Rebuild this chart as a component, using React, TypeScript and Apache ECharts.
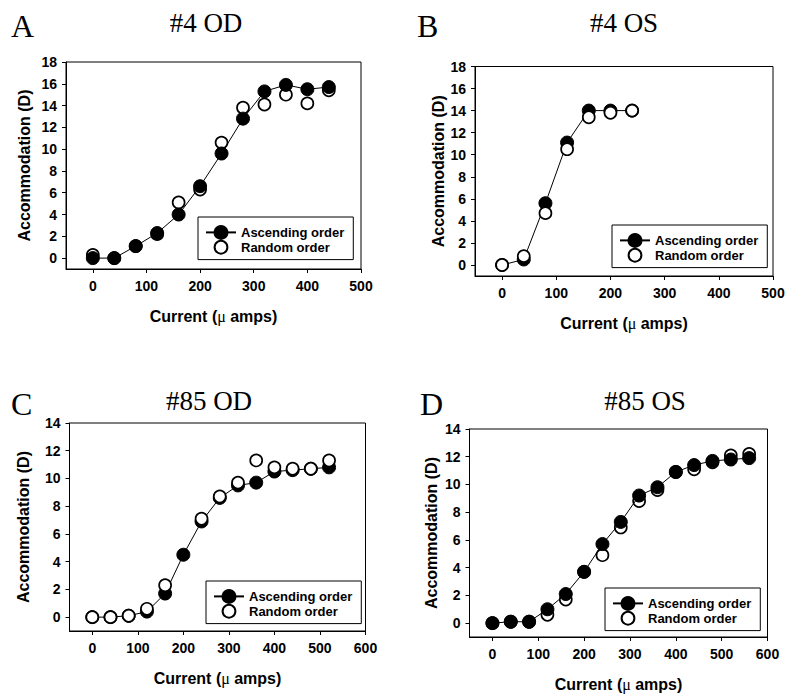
import React, { useEffect, useRef } from 'react';
import * as echarts from 'echarts';

// ---- Data ----
const currentA = [0, 40, 80, 120, 160, 200, 240, 280, 320, 360, 400, 440];
const ascendingA = [0, 0, 1.1, 2.3, 4.0, 6.6, 9.6, 12.8, 15.3, 15.9, 15.5, 15.7];
const randomA = [0.3, 0, 1.1, 2.2, 5.1, 6.3, 10.6, 13.8, 14.1, 15.0, 14.2, 15.4];

const currentB = [0, 40, 80, 120, 160, 200, 240];
const ascendingB = [0, 0.5, 5.6, 11.1, 14.0, 14.0, 14.0];
const randomB = [0, 0.8, 4.7, 10.5, 13.4, 13.8, 14.0];

const currentC = [0, 40, 80, 120, 160, 200, 240, 280, 320, 360, 400, 440, 480, 520];
const ascendingC = [0, 0, 0.1, 0.4, 1.7, 4.5, 6.9, 8.6, 9.5, 9.7, 10.5, 10.6, 10.7, 10.8];
const randomC = [0, 0, 0.1, 0.6, 2.3, null, 7.1, 8.7, 9.7, 11.3, 10.8, 10.7, 10.7, 11.3];

const currentD = [0, 40, 80, 120, 160, 200, 240, 280, 320, 360, 400, 440, 480, 520, 560];
const ascendingD = [0, 0.1, 0.1, 1.0, 2.1, 3.7, 5.7, 7.3, 9.2, 9.8, 10.9, 11.4, 11.7, 11.8, 11.9];
const randomD = [0, 0.1, 0.1, 0.6, 1.7, 3.7, 4.9, 6.9, 8.8, 9.6, 10.9, 11.1, 11.6, 12.1, 12.2];

const xTicks500 = [0, 100, 200, 300, 400, 500];
const xTicks600 = [0, 100, 200, 300, 400, 500, 600];
const yTicks18 = [0, 2, 4, 6, 8, 10, 12, 14, 16, 18];
const yTicks14 = [0, 2, 4, 6, 8, 10, 12, 14];

const panelLetters = ['A', 'B', 'C', 'D'];
const panelTitles = ['#4 OD', '#4 OS', '#85 OD', '#85 OS'];
const seriesNames = ['Ascending order', 'Random order'];
const yAxisTitle = 'Accommodation (D)';
const xAxisTitle = 'Current ({mu|μ} amps)';

const SANS = 'Liberation Sans';
const SERIF = 'Liberation Serif';

function zip(xs: number[], ys: (number | null)[]) {
  const out: number[][] = [];
  xs.forEach((x, i) => {
    const y = ys[i];
    if (y !== null && y !== undefined) out.push([x, y]);
  });
  return out;
}

const panels = [
  { x: currentA, asc: ascendingA, rnd: randomA, xMax: 500, yMax: 18, xTicks: xTicks500, yTicks: yTicks18,
    grid: { left: 66, top: 62, width: 295, height: 207 }, legend: { left: 198, top: 217 }, yGap: 34, ascOnTop: true },
  { x: currentB, asc: ascendingB, rnd: randomB, xMax: 500, yMax: 18, xTicks: xTicks500, yTicks: yTicks18,
    grid: { left: 475, top: 66.5, width: 298, height: 209.5 }, legend: { left: 612, top: 225 }, yGap: 29, ascOnTop: false },
  { x: currentC, asc: ascendingC, rnd: randomC, xMax: 600, yMax: 14, xTicks: xTicks600, yTicks: yTicks14,
    grid: { left: 69.5, top: 423, width: 296, height: 208 }, legend: { left: 206, top: 581 }, yGap: 38, ascOnTop: false },
  { x: currentD, asc: ascendingD, rnd: randomD, xMax: 600, yMax: 14, xTicks: xTicks600, yTicks: yTicks14,
    grid: { left: 469.5, top: 429, width: 298, height: 208 }, legend: { left: 605, top: 588 }, yGap: 30, ascOnTop: true },
];

const titlePos = [
  { lx: 11, ly: 26, tx: 206, ty: 23 },
  { lx: 417, ly: 26, tx: 624, ty: 23 },
  { lx: 11, ly: 404, tx: 209, ty: 401 },
  { lx: 420, ly: 404, tx: 645, ty: 401 },
];

export default function App() {
  const ref = useRef<HTMLDivElement>(null);

  useEffect(() => {
    if (!ref.current) return;
    const chart = echarts.init(ref.current, null, { renderer: 'svg' });

    const grids: any[] = [];
    const xAxes: any[] = [];
    const yAxes: any[] = [];
    const series: any[] = [];
    const legends: any[] = [];
    const graphics: any[] = [];

    panels.forEach((p, i) => {
      grids.push({ ...p.grid, show: true, borderColor: '#000', borderWidth: 1, backgroundColor: 'transparent', containLabel: false });
      xAxes.push({
        type: 'value', gridIndex: i, min: -50, max: p.xMax,
        axisLine: { show: true, onZero: false, lineStyle: { color: '#000', width: 1 } },
        axisTick: { show: true, length: 4, customValues: p.xTicks, lineStyle: { color: '#000' } },
        axisLabel: { customValues: p.xTicks, margin: 10, fontFamily: SANS, fontWeight: 'bold', fontSize: 14, color: '#000' },
        splitLine: { show: false },
        name: xAxisTitle, nameLocation: 'middle', nameGap: 39,
        nameTextStyle: {
          fontFamily: SANS, fontWeight: 'bold', fontSize: 16, color: '#000',
          rich: { mu: { fontFamily: SERIF, fontWeight: 'normal', fontSize: 16, color: '#000' } },
        },
      });
      yAxes.push({
        type: 'value', gridIndex: i, min: -1, max: p.yMax,
        axisLine: { show: true, onZero: false, lineStyle: { color: '#000', width: 1 } },
        axisTick: { show: true, length: 4, customValues: p.yTicks, lineStyle: { color: '#000' } },
        axisLabel: { customValues: p.yTicks, margin: 9, fontFamily: SANS, fontWeight: 'bold', fontSize: 14, color: '#000' },
        splitLine: { show: false },
        name: yAxisTitle, nameLocation: 'middle', nameGap: p.yGap,
        nameTextStyle: { fontFamily: SANS, fontWeight: 'bold', fontSize: 16, color: '#000' },
      });
      series.push({
        name: seriesNames[0], type: 'line', xAxisIndex: i, yAxisIndex: i,
        data: zip(p.x, p.asc), symbol: 'circle', symbolSize: 13,
        itemStyle: { color: '#000', borderColor: '#000', borderWidth: 1 },
        lineStyle: { color: '#000', width: 1 },
        z: p.ascOnTop ? 4 : 2, emphasis: { disabled: true },
      });
      series.push({
        name: seriesNames[1], type: 'line', xAxisIndex: i, yAxisIndex: i,
        data: zip(p.x, p.rnd), symbol: 'circle', symbolSize: 12,
        itemStyle: { color: '#fff', borderColor: '#000', borderWidth: 1.7 },
        lineStyle: { width: 0, opacity: 0 },
        z: p.ascOnTop ? 2 : 4, emphasis: { disabled: true },
      });
      legends.push({
        left: p.legend.left, top: p.legend.top, orient: 'vertical',
        data: seriesNames, selectedMode: false,
        itemWidth: 30, itemHeight: 16, itemGap: 0,
        padding: [8, 9, 5, 7],
        backgroundColor: '#fff', borderColor: '#000', borderWidth: 1,
        textStyle: { fontFamily: SANS, fontWeight: 'bold', fontSize: 13, color: '#000' },
      });
      const t = titlePos[i];
      graphics.push({
        type: 'text', left: t.lx, top: t.ly - 16, z: 10,
        style: { text: panelLetters[i], fontFamily: SERIF, fontSize: 32, fill: '#000' },
      });
      graphics.push({
        type: 'text', x: t.tx, y: t.ty, z: 10,
        style: { text: panelTitles[i], fontFamily: SERIF, fontSize: 27, fill: '#000', align: 'center', verticalAlign: 'middle' },
      });
    });

    chart.setOption({
      animation: false,
      backgroundColor: '#fff',
      grid: grids,
      xAxis: xAxes,
      yAxis: yAxes,
      series,
      legend: legends,
      graphic: graphics,
    });
    return () => chart.dispose();
  }, []);

  return <div ref={ref} style={{ position: 'absolute', left: 0, top: 0, width: 788, height: 694 }} />;
}
